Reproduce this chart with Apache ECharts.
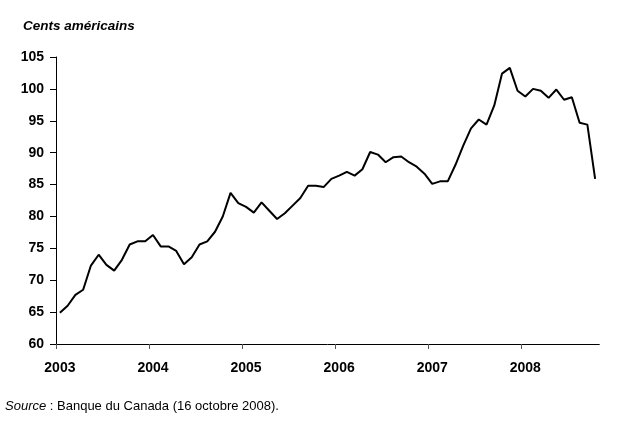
<!DOCTYPE html>
<html>
<head>
<meta charset="utf-8">
<script src="https://cdn.jsdelivr.net/npm/echarts@6/dist/echarts.min.js"></script>
<style>
html,body{margin:0;padding:0;background:#fff;}
#c{width:629px;height:423px;}
</style>
</head>
<body>
<div id="c"></div>
<script>
var years = ['2003','2004','2005','2006','2007','2008'];
var monthsInLastYear = 10;
var values = [
  64.9, 66.0, 67.7, 68.5, 72.3, 74.0, 72.4, 71.5, 73.2, 75.6, 76.1, 76.1,
  77.1, 75.3, 75.3, 74.6, 72.5, 73.6, 75.6, 76.1, 77.6, 80.0, 83.7, 82.1,
  81.5, 80.6, 82.2, 80.9, 79.6, 80.5, 81.7, 82.9, 84.8, 84.8, 84.6, 85.9,
  86.4, 87.0, 86.4, 87.4, 90.1, 89.7, 88.5, 89.3, 89.4, 88.5, 87.8, 86.7,
  85.1, 85.5, 85.5, 88.1, 91.1, 93.8, 95.2, 94.4, 97.4, 102.4, 103.3, 99.7,
  98.8, 100.0, 99.7, 98.6, 99.9, 98.3, 98.7, 94.7, 94.4, 85.9
];
var yMin = 60, yMax = 105, yStep = 5;
var titleText = 'Cents américains';
var sourceItalic = 'Source';
var sourceRest = ' : Banque du Canada (16 octobre 2008).';

var categories = [];
years.forEach(function(y, yi){
  var n = (yi === years.length - 1) ? monthsInLastYear : 12;
  for (var m = 1; m <= n; m++) categories.push(y + '-' + (m < 10 ? '0' + m : m));
});

var FONT = '"Liberation Sans", Arial, sans-serif';
var chart = echarts.init(document.getElementById('c'), null, {renderer:'canvas'});
chart.setOption({
  animation: false,
  backgroundColor: '#fff',
  title: {
    text: titleText, left: 18, top: 14,
    textStyle: {fontFamily: FONT, fontSize: 13.5, fontWeight: 'bold', fontStyle: 'italic', color: '#000'}
  },
  grid: {left: 56, right: 30, top: 57, bottom: 79, containLabel: false},
  xAxis: {
    type: 'category', data: categories, boundaryGap: true,
    axisLine: {lineStyle: {color: '#000', width: 1}},
    axisTick: {show: true, interval: function(i){ return i % 12 === 0; }, length: 5, lineStyle: {color: '#555'}},
    axisLabel: {
      interval: function(i){ return i % 12 === 0; },
      formatter: function(v){ return v.slice(0,4); },
      margin: 17, fontFamily: FONT, fontSize: 14, fontWeight: 'bold', color: '#000'
    },
    splitLine: {show: false}
  },
  yAxis: {
    type: 'value', min: yMin, max: yMax, interval: yStep,
    axisLine: {show: true, lineStyle: {color: '#000', width: 1}},
    axisTick: {show: true, length: 6, lineStyle: {color: '#000'}},
    axisLabel: {margin: 12, fontFamily: FONT, fontSize: 14, fontWeight: 'bold', color: '#000'},
    splitLine: {show: false}
  },
  graphic: [{
    type: 'text', left: 5, top: 400,
    style: {
      text: '{i|' + sourceItalic + '}' + sourceRest,
      font: '13px ' + FONT, fill: '#000',
      rich: {i: {fontStyle: 'italic', fontFamily: FONT, fontSize: 13, fill: '#000'}}
    }
  }, {
    type: 'rect', left: 597, top: 345, z: 100,
    shape: {width: 5, height: 7}, style: {fill: '#fff'}, silent: true
  }],
  series: [{
    type: 'line', data: values, symbol: 'none',
    lineStyle: {color: '#000', width: 2}
  }]
});
</script>
</body>
</html>
